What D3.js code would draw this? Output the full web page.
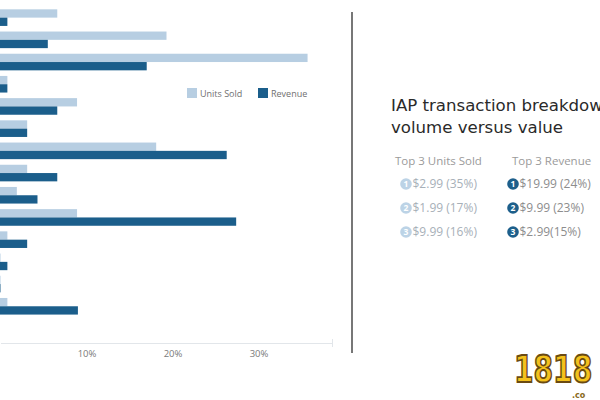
<!DOCTYPE html>
<html>
<head>
<meta charset="utf-8">
<script src="https://cdn.jsdelivr.net/npm/d3@7"></script>
<style>
  html, body { margin: 0; padding: 0; background: #fff; }
  svg { display: block; }
</style>
</head>
<body>
<div id="chart"></div>
<script>
// ---- data ----
const categories = ["$0.99", "$1.99", "$2.99", "$3.99", "$4.99", "$6.99", "$9.99",
                    "$14.99", "$17.99", "$19.99", "$24.99", "$49.99", "$79.99", "$99.99"];
const unitsSold = [6.6, 19.3, 35.7, 0.8, 8.9, 3.1, 18.1, 3.1, 1.9, 8.9, 0.8, 0, 0, 0.8];
const revenue   = [0.8, 5.5, 17.0, 0.8, 6.6, 3.1, 26.3, 6.6, 4.3, 27.4, 3.1, 0.8, 0, 9.0];
const seriesNames = ["Units Sold", "Revenue"];
const xTicks = [10, 20, 30];

const titleLines = ["IAP transaction breakdown:", "volume versus value"];
const topHeaders = ["Top 3 Units Sold", "Top 3 Revenue"];
const topUnits   = ["$2.99 (35%)", "$1.99 (17%)", "$9.99 (16%)"];
const topRevenue = ["$19.99 (24%)", "$9.99 (23%)", "$2.99(15%)"];

// ---- drawing ----
const W = 600, H = 400;
const light = "#b7cee2", dark = "#1b5e8b";
const svg = d3.select("#chart").append("svg").attr("width", W).attr("height", H);

const x = d3.scaleLinear().domain([0, 38.6]).range([0.5, 332.5]);
const y = d3.scaleBand().domain(categories).range([0, 323.9]).paddingInner(0.252).paddingOuter(0.42);
const sub = d3.scaleBand().domain(seriesNames).range([0, y.bandwidth()]);

const rows = categories.map((c, i) => ({ c, vals: [unitsSold[i], revenue[i]] }));
const g = svg.append("g");
g.selectAll("g.row").data(rows).join("g")
  .attr("class", "row")
  .attr("transform", d => `translate(0,${y(d.c)})`)
  .selectAll("rect").data(d => d.vals.map((v, k) => ({ v, k })))
  .join("rect")
  .attr("x", x(0) - 0.5)
  .attr("y", d => sub(seriesNames[d.k]))
  .attr("height", sub.bandwidth())
  .attr("width", d => Math.max(0, x(d.v) - x(0) + 0.5))
  .attr("fill", d => d.k === 0 ? light : dark);

// x axis
const ax = svg.append("g").attr("transform", "translate(0,343)")
  .call(d3.axisBottom(x).tickValues(xTicks).tickFormat(d => d + "%").tickSize(0).tickSizeOuter(0).tickPadding(7));
ax.select(".domain").attr("stroke", "#e2e6ea");
ax.selectAll("text").attr("fill", "#7a7a7a").attr("font-family", "'Open Sans', sans-serif").attr("font-size", 9.5);
svg.append("line").attr("x1", x(38.6)).attr("x2", x(38.6)).attr("y1", 339).attr("y2", 347)
  .attr("stroke", "#e2e6ea");

// legend
const leg = svg.append("g").attr("font-family", "'Open Sans', sans-serif").attr("font-size", 9);
const legX = [187, 258];
seriesNames.forEach((s, i) => {
  leg.append("rect").attr("x", legX[i]).attr("y", 88).attr("width", 10).attr("height", 10)
    .attr("fill", i === 0 ? light : dark);
  leg.append("text").attr("x", legX[i] + 13).attr("y", 96.5).attr("fill", "#6f6f6f").text(s);
});

// divider
svg.append("line").attr("x1", 352).attr("x2", 352).attr("y1", 12).attr("y2", 353)
  .attr("stroke", "#4a4a4a").attr("stroke-width", 1.5);

// title
svg.append("g").selectAll("text").data(titleLines).join("text")
  .attr("x", 391).attr("y", (d, i) => 111 + i * 22)
  .attr("font-family", "'DejaVu Sans', Verdana, sans-serif").attr("font-size", 16.6)
  .attr("fill", "#2a2a2a").text(d => d);

// top 3 lists
const colX = [395, 512];
topHeaders.forEach((h, i) => {
  svg.append("text").attr("x", colX[i]).attr("y", 165)
    .attr("font-family", "'Open Sans', sans-serif").attr("font-size", 11.5)
    .attr("fill", "#9a9a9a").text(h);
});
const lists = [topUnits, topRevenue];
const circX = [406, 513];
const circFill = ["#bcd3e6", "#1d5f8b"];
const txtFill = ["#a7b0b8", "#8d8d8d"];
lists.forEach((list, c) => {
  const gg = svg.append("g").attr("font-family", "'Open Sans', sans-serif");
  list.forEach((t, r) => {
    const cy = 184 + r * 24;
    gg.append("circle").attr("cx", circX[c]).attr("cy", cy).attr("r", 5.8).attr("fill", circFill[c]);
    gg.append("text").attr("x", circX[c]).attr("y", cy + 3.3).attr("text-anchor", "middle")
      .attr("font-size", 8.5).attr("font-weight", "bold").attr("fill", "#fff").text(r + 1);
    gg.append("text").attr("x", circX[c] + 6.5).attr("y", cy + 4.3)
      .attr("font-size", 12).attr("fill", txtFill[c]).text(t);
  });
});

// corner logo (watermark)
svg.append("g").attr("transform", "translate(514,382) scale(0.74,1)")
  .append("text")
  .attr("font-family", "'DejaVu Sans', sans-serif").attr("font-weight", "bold").attr("font-size", 38)
  .attr("fill", "#f4c21c").attr("stroke", "#6b4a12").attr("stroke-width", 1.8).text("1818");
svg.append("text").attr("x", 572).attr("y", 398)
  .attr("font-family", "'DejaVu Sans', sans-serif").attr("font-weight", "bold").attr("font-size", 8)
  .attr("fill", "#8a6a20").text(".co");
</script>
</body>
</html>
